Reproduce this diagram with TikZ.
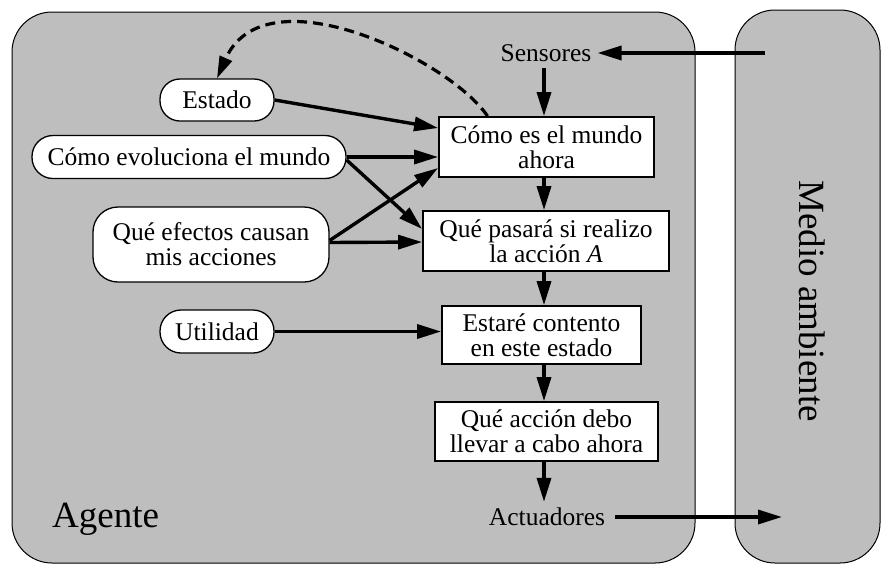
\documentclass[tikz,border=0pt]{standalone}
\usepackage{fontspec}
\setmainfont{Liberation Serif}
\usetikzlibrary{arrows.meta}
\definecolor{panel}{RGB}{190,190,190}
\begin{document}
\begin{tikzpicture}[x=1pt,y=-1pt,
  every node/.style={font=\fontsize{25.5}{25}\selectfont},
  panelbox/.style={draw, fill=panel, line width=1pt, rounded corners=40pt},
  box/.style={draw, line width=1.8pt, fill=white, align=center, inner sep=0pt},
  pill/.style={draw, line width=1.3pt, fill=white, align=center, inner sep=0pt},
  arr/.style={line width=3.4pt, -{Triangle[length=24pt,width=14pt]}},
  plain/.style={inner sep=6pt},
]
\useasboundingbox (0,0) rectangle (891,574);
% panels
\draw[panelbox] (12,12) rectangle (695,563);
\draw[panelbox] (735,10) rectangle (880,563);
\node[font=\fontsize{37}{37}\selectfont, anchor=base west, inner sep=0pt] (agente) at (52,527) {Agente};
\node[font=\fontsize{37}{37}\selectfont, rotate=-90, inner sep=0pt] (medio) at (812,301) {Medio ambiente};
% axis of vertical arrows
\coordinate (axis) at (544,0);
% boxes
\node[box, minimum width=215pt, minimum height=60pt] (b1) at (546.5,147) {Cómo es el mundo\\ahora};
\node[box, minimum width=246pt, minimum height=60pt] (b2) at (546,241) {Qué pasará si realizo\\la acción \textit{A}};
\node[box, minimum width=199pt, minimum height=58pt] (b3) at (541.5,335) {Estaré contento\\en este estado};
\node[box, minimum width=223pt, minimum height=59pt] (b4) at (546.5,431.5) {Qué acción debo\\llevar a cabo ahora};
% sensors / actuators
\node[plain] (sens) at (546,53) {Sensores};
\node[plain, inner xsep=10pt] (act) at (547,517) {Actuadores};
\coordinate (envout) at (765,53);
\coordinate (envin) at (782,517);
% pills
\node[pill, minimum width=114pt, minimum height=42pt, rounded corners=20pt] (est) at (217,100) {Estado};
\node[pill, minimum width=314pt, minimum height=43pt, rounded corners=21pt] (evo) at (189,157) {Cómo evoluciona el mundo};
\node[pill, minimum width=236pt, minimum height=75pt, rounded corners=25pt] (efe) at (211,244.5) {Qué efectos causan\\mis acciones};
\node[pill, minimum width=114pt, minimum height=43pt, rounded corners=21pt] (uti) at (217,331.5) {Utilidad};
% vertical flow
\draw[arr] (sens.south -| axis) -- (b1.north -| axis);
\draw[arr] (b1.south -| axis) -- (b2.north -| axis);
\draw[arr] (b2.south -| axis) -- (b3.north -| axis);
\draw[arr] (b3.south -| axis) -- (b4.north -| axis);
\draw[arr] (b4.south -| axis) -- (act.north -| axis);
% environment
\draw[arr] (envout) -- (sens);
\draw[arr] (act) -- (envin);
% knowledge arrows
\draw[arr] (est.east) -- ([yshift=19pt]b1.west);
\draw[arr] (evo.east) -- ([yshift=-10pt]b1.west);
\draw[arr] ([yshift=-3pt]evo.east) -- ([yshift=12pt]b2.west);
\draw[arr] ([yshift=4pt]efe.east) -- ([yshift=-21pt]b1.west);
\draw[arr] ([yshift=2pt]efe.east) -- ([yshift=-1pt]b2.west);
\draw[arr] (uti.east) -- (b3.west |- uti.east);
% dashed feedback
\draw[line width=3.2pt, dash pattern=on 10pt off 6pt, -{Triangle[length=22pt,width=13pt]}]
  ([xshift=-59pt]b1.north) .. controls (450,60) and (265,-30) .. (est.north);
\end{tikzpicture}
\end{document}
